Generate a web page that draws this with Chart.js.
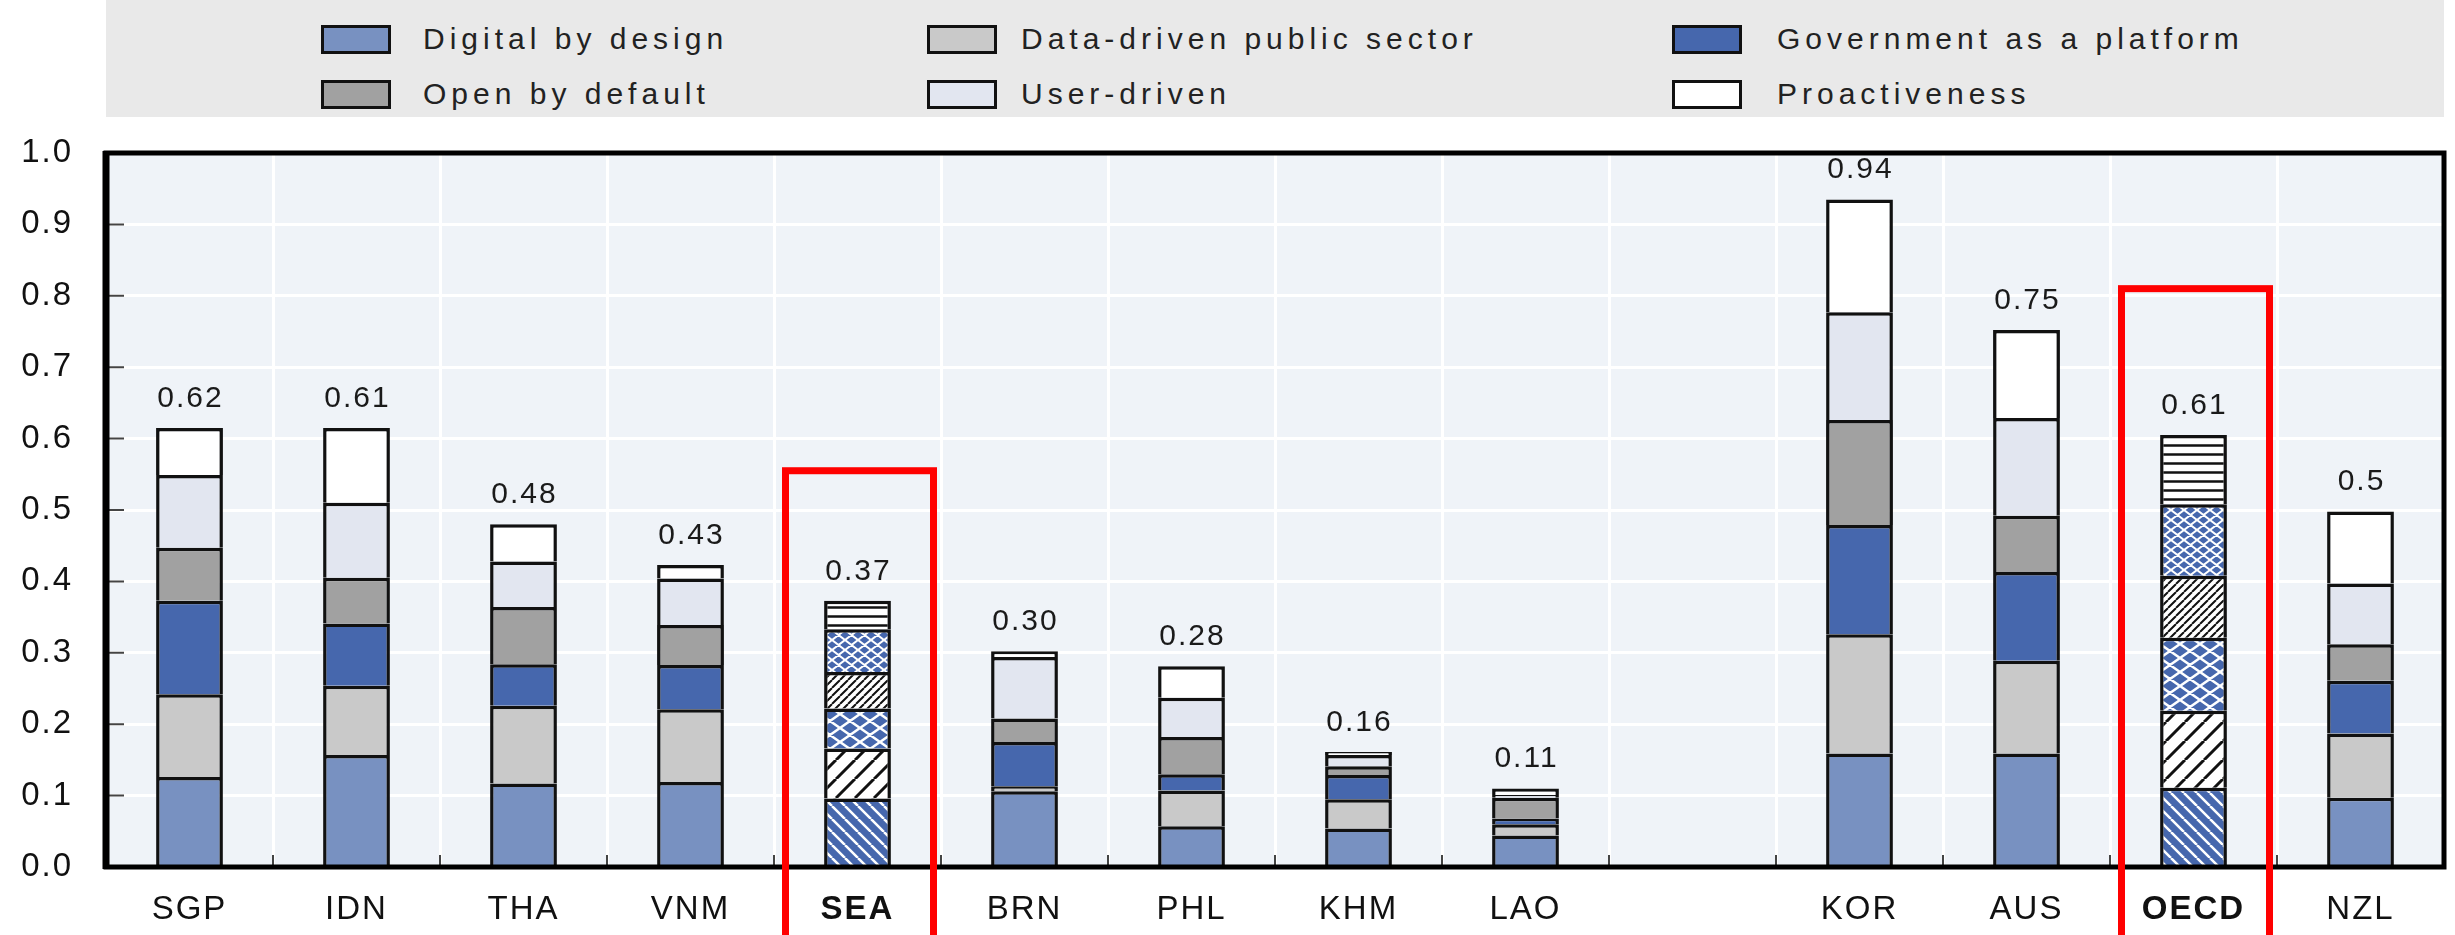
<!DOCTYPE html>
<html>
<head>
<meta charset="utf-8">
<script src="https://cdn.jsdelivr.net/npm/chart.js@4.4.0/dist/chart.umd.min.js"></script>
<style>
  html, body { margin: 0; padding: 0; background: #fff; }
  #wrap { position: relative; width: 2455px; height: 935px; overflow: hidden; }
  #legend { position: absolute; left: 106px; top: 0; width: 2338px; height: 117px; background: #e9e9e9;
            font-family: 'Liberation Sans', Arial, sans-serif; font-size: 30px; letter-spacing: 5px; color: #222; z-index: 2; }
  .box { position: absolute; width: 70px; height: 29px; border: 3px solid #111; box-sizing: border-box; }
  .txt { position: absolute; white-space: nowrap; line-height: 30px; }
  #chartBox { position: absolute; left: 0; top: 0; width: 2455px; height: 935px; }
</style>
</head>
<body>
<div id="wrap">
  <div id="legend"></div>
  <div id="chartBox"><canvas id="chart"></canvas></div>
</div>
<script>
const categories = ['SGP', 'IDN', 'THA', 'VNM', 'SEA', 'BRN', 'PHL', 'KHM', 'LAO', '', 'KOR', 'AUS', 'OECD', 'NZL'];

const digitalByDesign = [0.126, 0.157, 0.117, 0.119, 0.096, 0.106, 0.057, 0.054, 0.044, null, 0.159, 0.159, 0.111, 0.097];
const dataDriven      = [0.116, 0.097, 0.109, 0.102, 0.070, 0.007, 0.050, 0.041, 0.016, null, 0.167, 0.130, 0.108, 0.090];
const govPlatform     = [0.131, 0.087, 0.058, 0.062, 0.056, 0.062, 0.023, 0.034, 0.008, null, 0.153, 0.124, 0.102, 0.074];
const openByDefault   = [0.074, 0.064, 0.080, 0.056, 0.051, 0.033, 0.052, 0.012, 0.029, null, 0.147, 0.079, 0.087, 0.051];
const userDriven      = [0.102, 0.105, 0.064, 0.065, 0.060, 0.086, 0.055, 0.016, 0.004, null, 0.151, 0.137, 0.100, 0.085];
const proactiveness   = [0.066, 0.105, 0.052, 0.019, 0.040, 0.008, 0.044, 0.004, 0.009, null, 0.158, 0.123, 0.097, 0.101];

const totalLabels = ['0.62', '0.61', '0.48', '0.43', '0.37', '0.30', '0.28', '0.16', '0.11', '', '0.94', '0.75', '0.61', '0.5'];
const yTickLabels = ['0.0', '0.1', '0.2', '0.3', '0.4', '0.5', '0.6', '0.7', '0.8', '0.9', '1.0'];

// averages drawn with hatch patterns and framed in red
const averageIdx = [4, 12];
const redBoxes = [{ index: 4, top: 0.555 }, { index: 12, top: 0.81 }];

const FONT = "'Liberation Sans', Arial, sans-serif";
const BLUE = '#4667ad';

function makePattern(bg, fg, w, h, lw, kind) {
  const c = document.createElement('canvas');
  c.width = w; c.height = h;
  const g = c.getContext('2d');
  g.fillStyle = bg;
  g.fillRect(0, 0, w, h);
  g.strokeStyle = fg;
  g.lineWidth = lw;
  g.beginPath();
  for (let k = -1; k <= 1; k++) {
    if (kind === 'back' || kind === 'cross') { g.moveTo(k * w, 0); g.lineTo(k * w + w, h); }
    if (kind === 'fwd' || kind === 'cross') { g.moveTo(k * w, h); g.lineTo(k * w + w, 0); }
  }
  if (kind === 'horiz') { g.moveTo(0, h / 2); g.lineTo(w, h / 2); }
  g.stroke();
  return g.createPattern(c, 'repeat');
}

const series = [
  { label: 'Digital by design', data: digitalByDesign, color: '#7891c1', pattern: makePattern(BLUE, '#fff', 13, 13, 2.5, 'back') },
  { label: 'Data-driven public sector', data: dataDriven, color: '#c9c9c9', pattern: makePattern('#fff', '#111', 19, 19, 3, 'fwd') },
  { label: 'Government as a platform', data: govPlatform, color: BLUE, pattern: makePattern(BLUE, '#fff', 20, 14, 2.5, 'cross') },
  { label: 'Open by default', data: openByDefault, color: '#a1a1a1', pattern: makePattern('#fff', '#111', 8, 8, 2, 'fwd') },
  { label: 'User-driven', data: userDriven, color: '#e2e6f0', pattern: makePattern(BLUE, '#fff', 13, 10, 2, 'cross') },
  { label: 'Proactiveness', data: proactiveness, color: '#ffffff', pattern: makePattern('#fff', '#111', 9, 9, 2.5, 'horiz') }
];

// legend (html, 3 columns x 2 rows like the original)
const legendPos = [
  { box: 321, text: 423, y: 40 }, { box: 927, text: 1021, y: 40 }, { box: 1672, text: 1777, y: 40 },
  { box: 321, text: 423, y: 95 }, { box: 927, text: 1021, y: 95 }, { box: 1672, text: 1777, y: 95 }
];
const legendEl = document.getElementById('legend');
series.forEach((s, i) => {
  const p = legendPos[i];
  const box = document.createElement('div');
  box.className = 'box';
  box.style.left = (p.box - 106) + 'px';
  box.style.top = (p.y - 15) + 'px';
  box.style.background = s.color;
  legendEl.appendChild(box);
  const txt = document.createElement('div');
  txt.className = 'txt';
  txt.style.left = (p.text - 106) + 'px';
  txt.style.top = (p.y - 16) + 'px';
  txt.textContent = s.label;
  legendEl.appendChild(txt);
});

const extras = {
  id: 'extras',
  beforeDraw(chart) {
    const { ctx, chartArea: a } = chart;
    ctx.save();
    ctx.fillStyle = '#eff3f8';
    ctx.fillRect(a.left, a.top, a.right - a.left, a.bottom - a.top);
    ctx.restore();
    ctx.letterSpacing = '2px';
  },
  afterDatasetsDraw(chart) {
    const { ctx, chartArea: a, scales } = chart;
    ctx.save();
    // small inner ticks
    ctx.strokeStyle = '#444';
    ctx.lineWidth = 2;
    ctx.beginPath();
    for (let v = 1; v < yTickLabels.length - 1; v++) {
      const y = scales.y.getPixelForValue(v / 10);
      ctx.moveTo(a.left, y); ctx.lineTo(a.left + 18, y);
    }
    for (let k = 1; k < categories.length; k++) {
      const x = (scales.x.getPixelForValue(k - 1) + scales.x.getPixelForValue(k)) / 2;
      ctx.moveTo(x, a.bottom); ctx.lineTo(x, a.bottom - 12);
    }
    ctx.stroke();
    // frame, left side heavier
    ctx.strokeStyle = '#000';
    ctx.lineWidth = 5;
    ctx.strokeRect(a.left, a.top, a.right - a.left, a.bottom - a.top);
    ctx.lineWidth = 7;
    ctx.beginPath();
    ctx.moveTo(a.left, a.top - 2); ctx.lineTo(a.left, a.bottom + 2);
    ctx.stroke();
    // totals
    const top = chart.getDatasetMeta(series.length - 1);
    ctx.fillStyle = '#1a1a1a';
    ctx.font = '30px ' + FONT;
    ctx.letterSpacing = '2px';
    ctx.textAlign = 'center';
    ctx.textBaseline = 'alphabetic';
    top.data.forEach((bar, i) => {
      if (!totalLabels[i]) return;
      ctx.fillText(totalLabels[i], bar.x + 1, bar.y - 21);
    });
    ctx.restore();
  },
  afterDraw(chart) {
    const { ctx, scales } = chart;
    ctx.save();
    ctx.strokeStyle = '#ff0000';
    ctx.lineWidth = 7;
    redBoxes.forEach(b => {
      const x = scales.x.getPixelForValue(b.index);
      const y = scales.y.getPixelForValue(b.top);
      ctx.strokeRect(x - 72, y, 148, chart.height - y + 20);
    });
    ctx.restore();
  }
};

new Chart(document.getElementById('chart'), {
  type: 'bar',
  data: {
    labels: categories,
    datasets: series.map(s => ({
      label: s.label,
      data: s.data,
      backgroundColor: ctx => averageIdx.includes(ctx.dataIndex) ? s.pattern : s.color,
      borderColor: '#111',
      borderWidth: 3.5,
      barPercentage: 0.4,
      categoryPercentage: 1
    }))
  },
  options: {
    responsive: true,
    maintainAspectRatio: false,
    devicePixelRatio: 1,
    animation: false,
    layout: { padding: { top: 153, right: 11, left: 0, bottom: 0 } },
    plugins: {
      legend: { display: false },
      tooltip: { enabled: false }
    },
    scales: {
      x: {
        stacked: true,
        afterFit: s => { s.height = 68; },
        grid: { color: '#ffffff', lineWidth: 3, drawTicks: false },
        border: { display: false },
        ticks: {
          padding: 23,
          color: '#111',
          font: ctx => ({
            family: FONT,
            size: 33,
            weight: averageIdx.includes(ctx.index) ? 'bold' : 'normal'
          })
        }
      },
      y: {
        stacked: true,
        min: 0,
        max: 1,
        afterFit: s => { s.width = 106; },
        grid: { color: '#ffffff', lineWidth: 3, drawTicks: false },
        border: { display: false },
        ticks: {
          stepSize: 0.1,
          padding: 33,
          color: '#111',
          font: { family: FONT, size: 33 },
          callback: (v, i) => yTickLabels[i]
        }
      }
    }
  },
  plugins: [extras]
});
</script>
</body>
</html>
